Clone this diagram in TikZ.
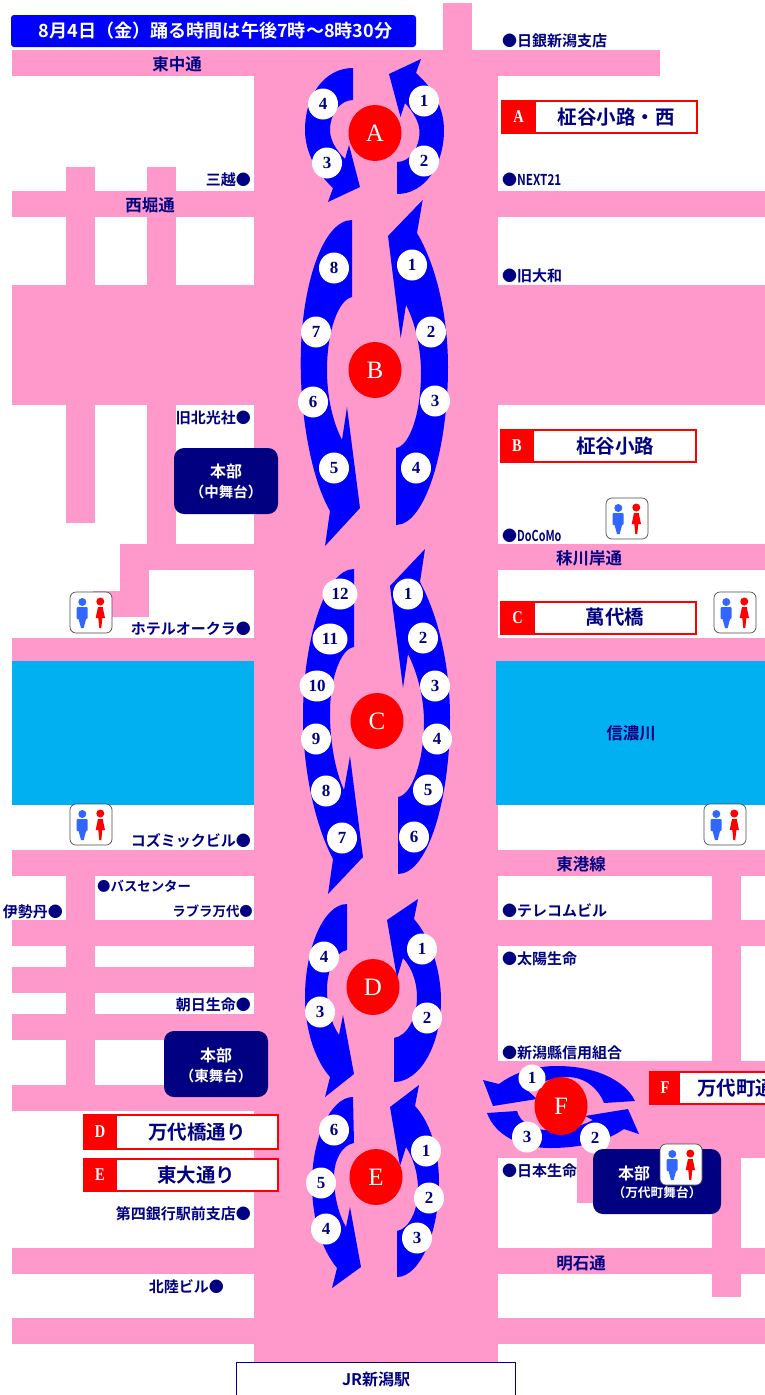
\documentclass[tikz,border=0pt]{standalone}
\usepackage{fontspec}
\usepackage{graphicx}
\setmainfont{Noto Sans CJK JP}[BoldFont={Noto Sans CJK JP Bold}]
\newfontfamily\serifnum{Liberation Serif}
\usetikzlibrary{shapes.geometric}
\definecolor{roadpink}{HTML}{FF99CC}
\definecolor{river}{HTML}{00B0F0}
\definecolor{flowblue}{HTML}{0000FF}
\definecolor{deepnavy}{HTML}{000080}
\definecolor{wcblue}{HTML}{3366FF}
\tikzset{
  road/.style={fill=roadpink},
  flow/.style={fill=flowblue},
  num/.style={ellipse,fill=white,inner sep=0pt,minimum width=30pt,minimum height=31pt,text=deepnavy,font=\serifnum\bfseries\fontsize{17}{17}\selectfont},
  numwide/.style={num,minimum width=35pt},
  numsmall/.style={num,minimum width=27pt,minimum height=27pt},
  hub/.style={ellipse,fill=red,inner sep=0pt,minimum width=53pt,minimum height=56pt,text=white,font=\serifnum\fontsize{25}{25}\selectfont},
  lab/.style={inner sep=0pt,text=deepnavy,font=\bfseries\fontsize{15}{15}\selectfont},
  labl/.style={lab,anchor=west},
  labr/.style={lab,anchor=east},
  labsmall/.style={font=\bfseries\fontsize{13.4}{13.4}\selectfont},
  street/.style={lab,font=\bfseries\fontsize{16.5}{16.5}\selectfont},
  legendbox/.style={draw=red,line width=2pt,fill=white},
  legendtag/.style={fill=red},
  legendletter/.style={inner sep=0pt,text=white,font=\serifnum\bfseries\fontsize{18}{18}\selectfont},
  legendtext/.style={inner sep=0pt,text=deepnavy,font=\bfseries\fontsize{19.5}{19.5}\selectfont},
  hqbox/.style={fill=deepnavy,rounded corners=10pt},
  hqa/.style={inner sep=0pt,text=white,font=\bfseries\fontsize{16}{16}\selectfont},
  hqb/.style={inner sep=0pt,text=white,font=\bfseries\fontsize{14.5}{14.5}\selectfont},
  wc/.pic={
    \draw[draw=black!70,fill=white,line width=0.7pt,rounded corners=6pt] (0,0) rectangle (42,41);
    \fill[wcblue] (12.3,10) circle (4);
    \fill[wcblue,rounded corners=1pt] (6.5,15) rectangle (17.7,27);
    \fill[wcblue] (8.3,26) -- (16.3,26) -- (13.7,36) -- (11,36) -- cycle;
    \fill[red] (30.3,9.5) circle (4);
    \fill[red] (28,15) -- (32.7,15) -- (35,26) -- (25.7,26) -- cycle;
    \fill[red] (28.3,26) -- (32.3,26) -- (31.3,36) -- (29.3,36) -- cycle;
  }
}
\begin{document}
\begin{tikzpicture}[x=1pt,y=-1pt]
\useasboundingbox (0,0) rectangle (765,1395);
\fill[white] (0,0) rectangle (765,1395);
\begin{scope}
\clip (0,0) rectangle (765,1395);
% roads
\fill[road] (254,50) rectangle (498,1362);
\fill[road] (443,3) rectangle (472,50);
\fill[road] (12,50) rectangle (660,76);
\fill[road] (12,191) rectangle (765,217);
\fill[road] (12,285) rectangle (765,405);
\fill[road] (66,167) rectangle (95,523);
\fill[road] (147,167) rectangle (176,544);
\fill[road] (120,544) rectangle (765,570);
\fill[road] (120,544) rectangle (149,617);
\fill[road] (93,591) rectangle (149,617);
\fill[road] (12,638) rectangle (765,661);
\fill[road] (12,850) rectangle (765,876);
\fill[road] (66,876) rectangle (95,1085);
\fill[road] (12,920) rectangle (254,946);
\fill[road] (12,967) rectangle (254,993);
\fill[road] (12,1014) rectangle (254,1040);
\fill[road] (12,1085) rectangle (254,1111);
\fill[road] (498,920) rectangle (765,946);
\fill[road] (712,876) rectangle (741,1297);
\fill[road] (498,1061) rectangle (765,1158);
\fill[road] (577,1158) rectangle (712,1203);
\fill[road] (12,1248) rectangle (765,1274);
\fill[road] (12,1318) rectangle (765,1344);
% river
\fill[river] (12,661) rectangle (254,805);
\fill[river] (496,661) rectangle (765,805);
% flow arrows A
\fill[flow] (421,59) -- (389,74) -- (400.5,117) -- (405,103) .. controls (413,112) and (419.5,122) .. (419.5,132) .. controls (419.5,148) and (410,162) .. (397,162) -- (397,194) .. controls (425,194) and (444,165) .. (444,130) .. controls (444,108) and (433,88) .. (416,73) -- cycle;
\fill[flow] (328,202) -- (360,187) -- (349,145) -- (345,159) .. controls (336,150) and (330,140) .. (330,130) .. controls (330,114) and (340,100) .. (353,100) -- (353,68) .. controls (325,68) and (305,95) .. (305,130) .. controls (305,152) and (316,172) .. (333,188) -- cycle;
% B
\fill[flow] (422.7,200) -- (388,236) -- (400.7,338) -- (406,305) .. controls (415,322) and (421,348) .. (421,373) .. controls (421,412) and (410,446) .. (396,448) -- (396,525) .. controls (425,525) and (448,450) .. (448,367) .. controls (448,315) and (436,265) .. (417,233) -- cycle;
\fill[flow] (325,546) -- (360,508) -- (347,407) -- (342,440) .. controls (333,422) and (327,398) .. (327,370) .. controls (327,332) and (338,300) .. (352,297) -- (352,220) .. controls (323,220) and (300.7,285) .. (300.7,363) .. controls (300.7,420) and (312,480) .. (330,511) -- cycle;
% C
\fill[flow] (425,549) -- (390,586) -- (403,688) -- (408,654) .. controls (417,672) and (424,697) .. (424,722) .. controls (424,760) and (412,795) .. (398,797) -- (398,874) .. controls (428,874) and (450,800) .. (450,717) .. controls (450,665) and (438,615) .. (420,582) -- cycle;
\fill[flow] (328,894) -- (363,857) -- (350,756) -- (344,790) .. controls (335,770) and (330,742) .. (330,713) .. controls (330,680) and (340,649) .. (354,647) -- (354,569) .. controls (325,569) and (303,640) .. (303,717) .. controls (303,770) and (315,825) .. (333,859) -- cycle;
% D
\fill[flow] (418,899) -- (387,920) -- (397,978) -- (403,958) .. controls (412,968) and (417,982) .. (417,997) .. controls (417,1018) and (407,1036) .. (394,1038) -- (394,1082) .. controls (420,1082) and (441,1045) .. (441,1000) .. controls (441,970) and (430,937) .. (414,919) -- cycle;
\fill[flow] (325,1097) -- (354,1074) -- (343,1015) -- (339,1035) .. controls (332,1025) and (327,1008) .. (327,990) .. controls (327,970) and (335,952) .. (347,950) -- (347,904) .. controls (323,904) and (305,950) .. (305,997) .. controls (305,1030) and (315,1060) .. (330,1077) -- cycle;
% E
\fill[flow] (419,1085) -- (390,1107) -- (400,1166) -- (406,1147) .. controls (413,1158) and (418,1172) .. (418,1190) .. controls (418,1210) and (409,1229) .. (397,1231) -- (397,1277) .. controls (420,1277) and (439,1232) .. (439,1183) .. controls (439,1150) and (430,1122) .. (415,1106) -- cycle;
\fill[flow] (332,1288) -- (361,1267) -- (350,1207) -- (346,1227) .. controls (339,1215) and (334,1197) .. (334,1177) .. controls (334,1160) and (342,1145) .. (354,1143) -- (353,1097) .. controls (330,1097) and (312,1140) .. (312,1183) .. controls (312,1220) and (322,1250) .. (337,1268) -- cycle;
% F
\fill[flow] (483,1080) -- (493,1106) -- (537,1099) -- (527,1090) .. controls (540,1082) and (555,1077) .. (567,1077) .. controls (585,1077) and (598,1088) .. (604,1103) -- (635,1101) .. controls (625,1080) and (595,1066) .. (557,1066) .. controls (535,1066) and (515,1072) .. (499,1084) -- cycle;
\fill[flow] (639,1134) -- (628,1109) -- (585,1116) -- (593,1120) .. controls (580,1127) and (562,1130) .. (547,1130) .. controls (532,1130) and (520,1122) .. (517,1111) -- (487,1113) .. controls (495,1135) and (520,1148) .. (550,1148) .. controls (580,1148) and (605,1142) .. (624,1129) -- cycle;
% hubs
\node[hub] (hubA) at (375,133) {A};
\node[hub] (hubB) at (375,370) {B};
\node[hub] (hubC) at (377,721) {C};
\node[hub] (hubD) at (373,987) {D};
\node[hub] (hubE) at (376,1177) {E};
\node[hub,minimum height=58pt] (hubF) at (561,1106) {F};
% numbers A
\node[num] (a1) at (424,101) {1};
\node[num] (a2) at (424,161) {2};
\node[num] (a3) at (327,163) {3};
\node[num] (a4) at (323,104) {4};
% B
\node[num] (b1) at (412,265) {1};
\node[num] (b2) at (431,332) {2};
\node[num] (b3) at (435,401) {3};
\node[num] (b4) at (416,468) {4};
\node[num] (b5) at (334,468) {5};
\node[num] (b6) at (313,402) {6};
\node[num] (b7) at (316,332) {7};
\node[num] (b8) at (334,268) {8};
% C
\node[num] (c1) at (408,594) {1};
\node[num] (c2) at (423,638) {2};
\node[num] (c3) at (435,686) {3};
\node[num] (c4) at (437,739) {4};
\node[num] (c5) at (428,790) {5};
\node[num] (c6) at (414,837) {6};
\node[num] (c7) at (342,838) {7};
\node[num] (c8) at (326,791) {8};
\node[num] (c9) at (316,739) {9};
\node[numwide] (c10) at (317,686) {10};
\node[numwide] (c11) at (330,639) {11};
\node[numwide] (c12) at (340,594) {12};
% D
\node[num] (d1) at (422,949) {1};
\node[num] (d2) at (427,1018) {2};
\node[num] (d3) at (320,1012) {3};
\node[num] (d4) at (324,957) {4};
% E
\node[num] (e1) at (426,1151) {1};
\node[num] (e2) at (429,1198) {2};
\node[num] (e3) at (417,1238) {3};
\node[num] (e4) at (326,1229) {4};
\node[num] (e5) at (321,1183) {5};
\node[num] (e6) at (334,1130) {6};
% F
\node[numsmall] (f1) at (532,1078) {1};
\node[num] (f2) at (595,1138) {2};
\node[num] (f3) at (527,1137) {3};
% title
\fill[flowblue,rounded corners=3pt] (11,15) rectangle (416,47);
\node[inner sep=0pt,text=white,font=\bfseries\fontsize{18.1}{18.1}\selectfont] (title) at (215.5,31) {8月4日（金）踊る時間は午後7時〜8時30分};
% street names
\node[street] (s1) at (177,64) {東中通};
\node[street] (s2) at (150,205) {西堀通};
\node[street] (s3) at (589,558) {秣川岸通};
\node[street] (s4) at (581,864) {東港線};
\node[street] (s5) at (581,1263) {明石通};
\node[street] (s6) at (631,733) {信濃川};
% landmarks right side
\node[labl] (l1) at (502,41) {●日銀新潟支店};
\node[labl] (l2) at (502,180) {●\scalebox{.78}[1]{NEXT21}};
\node[labl] (l3) at (502,276) {●旧大和};
\node[labl] (l4) at (502,536) {●\scalebox{.72}[1]{DoCoMo}};
\node[labl] (l5) at (502,911) {●テレコムビル};
\node[labl] (l6) at (502,959) {●太陽生命};
\node[labl] (l7) at (502,1053) {●新潟縣信用組合};
\node[labl] (l8) at (502,1171) {●日本生命};
\node[labl,labsmall] (l9) at (97,886) {●バスセンター};
% landmarks left side
\node[labr] (r1) at (251,180) {三越●};
\node[labr] (r2) at (251,418) {旧北光社●};
\node[labr] (r3) at (251,629) {ホテルオークラ●};
\node[labr] (r4) at (251,841) {コズミックビル●};
\node[labr,labsmall] (r5) at (253,911) {ラブラ万代●};
\node[labr] (r6) at (251,1005) {朝日生命●};
\node[labr] (r7) at (251,1214) {第四銀行駅前支店●};
\node[labr] (r8) at (224,1287) {北陸ビル●};
\node[labr] (r9) at (63,912) {伊勢丹●};
% legend boxes
\draw[legendbox] (502,101) rectangle (697,133);
\fill[legendtag] (501,100) rectangle (536,134);
\node[legendletter] (ka) at (518.5,117) {\scalebox{.8}[1]{A}};
\node[legendtext] (ta) at (616,117) {柾谷小路・西};
\draw[legendbox] (500.5,430) rectangle (696,462);
\fill[legendtag] (499.5,429) rectangle (534,463);
\node[legendletter] (kb) at (517,446) {\scalebox{.8}[1]{B}};
\node[legendtext] (tb) at (615,446) {柾谷小路};
\draw[legendbox] (501,601.5) rectangle (696,633.5);
\fill[legendtag] (500,600.5) rectangle (535,634.5);
\node[legendletter] (kc) at (517.5,617.5) {\scalebox{.8}[1]{C}};
\node[legendtext] (tc) at (615,617.5) {萬代橋};
\draw[legendbox] (83.5,1115) rectangle (278,1149);
\fill[legendtag] (82.5,1114) rectangle (117,1150);
\node[legendletter] (kd) at (100,1132) {\scalebox{.8}[1]{D}};
\node[legendtext] (td) at (197,1132) {万代橋通り};
\draw[legendbox] (83.5,1159) rectangle (277.5,1191);
\fill[legendtag] (82.5,1158) rectangle (117,1192);
\node[legendletter] (ke) at (100,1175) {\scalebox{.8}[1]{E}};
\node[legendtext] (te) at (196,1175) {東大通り};
\draw[legendbox] (650,1072) rectangle (790,1104);
\fill[legendtag] (649,1071) rectangle (680,1105);
\node[legendletter] (kf) at (665,1088) {\scalebox{.8}[1]{F}};
\node[legendtext,anchor=west] (tf) at (697,1088) {万代町通};
% headquarters
\fill[hqbox] (174,448) rectangle (278,514);
\node[hqa] (h1a) at (226,471) {本部};
\node[hqb] (h1b) at (226,492) {（中舞台）};
\fill[hqbox] (164,1031) rectangle (268,1097);
\node[hqa] (h2a) at (216,1055) {本部};
\node[hqb] (h2b) at (216,1076) {（東舞台）};
\fill[hqbox] (593,1149) rectangle (721,1214);
\node[hqa] (h3a) at (634,1173) {本部};
\node[hqb,font=\bfseries\fontsize{12.7}{12.7}\selectfont] (h3b) at (657,1193) {（万代町舞台）};
% toilets
\pic at (606,498) {wc};
\pic at (714,592) {wc};
\pic at (70,592) {wc};
\pic at (70,804) {wc};
\pic at (704,804) {wc};
\pic at (660,1144) {wc};
% station
\draw[draw=deepnavy,line width=1.5pt,fill=white] (236.5,1362.5) rectangle (515.5,1396);
\node[inner sep=0pt,text=deepnavy,font=\bfseries\fontsize{16}{16}\selectfont] (jr) at (376,1379) {JR新潟駅};
\end{scope}
\end{tikzpicture}
\end{document}
